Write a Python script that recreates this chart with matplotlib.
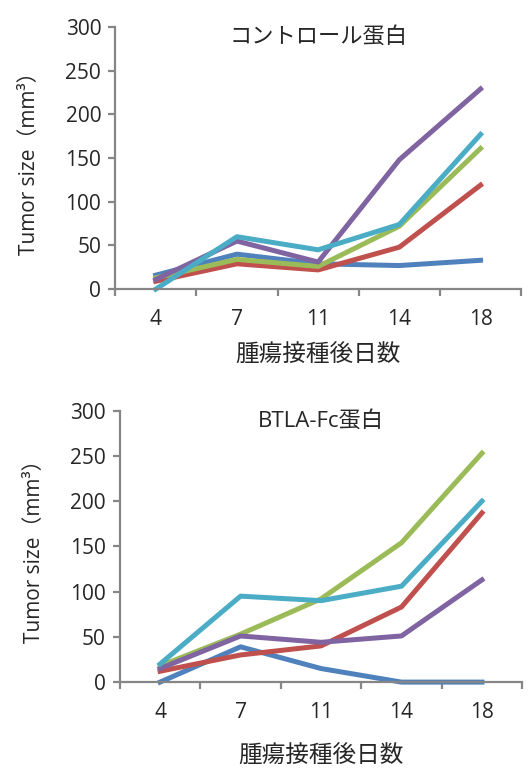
import numpy as np
import matplotlib
matplotlib.use("Agg")
from matplotlib import pyplot as plt

plt.rcParams['font.family'] = ['Open Sans', 'Noto Sans CJK JP', 'DejaVu Sans']

days = ["4", "7", "11", "14", "18"]
colors = ["#4F81BD", "#C0504D", "#9BBB59", "#8064A2", "#4BACC6"]

# control protein group
ctrl_blue = [16, 40, 29, 27, 33]
ctrl_red = [9, 29, 22, 48, 119]
ctrl_green = [13, 34, 26, 72, 161]
ctrl_purple = [11, 55, 31, 148, 229]
ctrl_cyan = [0, 60, 45, 74, 177]

# BTLA-Fc protein group
btla_blue = [0, 39, 15, 0, 0]
btla_red = [12, 30, 40, 83, 187]
btla_green = [18, 53, 92, 154, 253]
btla_purple = [15, 51, 44, 51, 113]
btla_cyan = [20, 95, 90, 106, 200]

ylabel = "Tumor size（mm³）"
xlabel = "腫瘍接種後日数"
axis_gray = "#868686"
text_col = "#262626"


def draw_panel(ax, series, title, xlabelpad):
    x = np.arange(len(days))
    for vals, c in zip(series, colors):
        ax.plot(x, vals, color=c, lw=3.6, clip_on=False)
    ax.set_xlim(-0.5, len(days) - 0.5)
    ax.set_ylim(0, 300)
    ax.set_yticks(np.arange(0, 301, 50))
    ax.set_xticks(x)
    ax.set_xticklabels(days)
    ax.set_xticks(np.arange(-0.5, len(days), 1), minor=True)
    for s in ["top", "right"]:
        ax.spines[s].set_visible(False)
    for s in ["left", "bottom"]:
        ax.spines[s].set_color(axis_gray)
        ax.spines[s].set_linewidth(1.6)
    ax.tick_params(axis="x", which="major", length=0, pad=14, labelsize=15, labelcolor=text_col)
    ax.tick_params(axis="x", which="minor", length=5, width=1.6, color=axis_gray)
    ax.tick_params(axis="y", length=5, width=1.6, color=axis_gray, labelsize=15, labelcolor=text_col, pad=5)
    ax.set_ylabel(ylabel, fontsize=15, color=text_col, labelpad=18)
    ax.set_xlabel(xlabel, fontsize=17, color=text_col, labelpad=xlabelpad)
    ax.text(0.5, 1.0, title, transform=ax.transAxes, ha="center", va="top",
            fontsize=16, color=text_col)


fig = plt.figure(figsize=(5.28, 7.69), dpi=100)
ax1 = fig.add_axes([0.218, 0.624, 0.769, 0.341])
ax2 = fig.add_axes([0.227, 0.113, 0.762, 0.353])

draw_panel(ax1, [ctrl_blue, ctrl_red, ctrl_green, ctrl_purple, ctrl_cyan], "コントロール蛋白", 10)
draw_panel(ax2, [btla_blue, btla_red, btla_green, btla_purple, btla_cyan], "BTLA-Fc蛋白", 16)

fig.savefig("out.png", dpi=100)
